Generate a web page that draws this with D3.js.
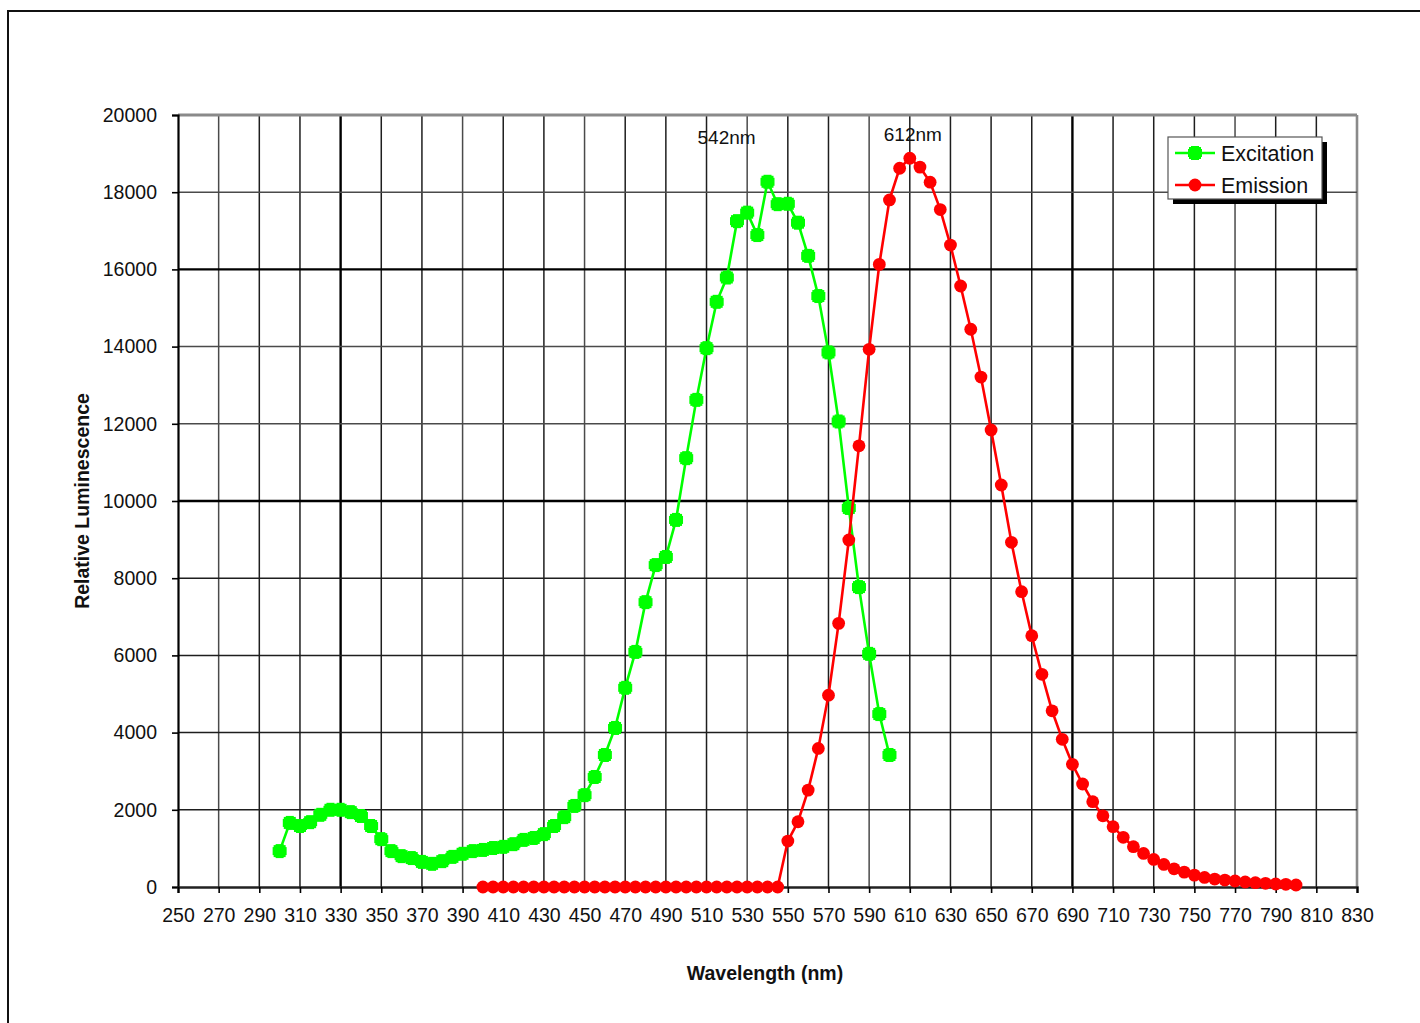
<!DOCTYPE html>
<html>
<head>
<meta charset="utf-8">
<script src="https://cdn.jsdelivr.net/npm/d3@7"></script>
<style>
  html, body { margin: 0; padding: 0; background: #fff; }
  svg { display: block; }
  text { font-family: "Liberation Sans", Arial, sans-serif; fill: #111; }
</style>
</head>
<body>
<svg id="chart" width="1420" height="1023"></svg>
<script>
// Wavelength sampling (nm)
const excitationWavelengths = d3.range(300, 601, 5);
const emissionWavelengths = d3.range(400, 801, 5);

// Excitation spectrum, relative luminescence at 300..600 nm
const excitationValues = [
  930, 1660, 1580, 1680, 1870, 2000, 2000, 1940, 1840, 1580,
  1240, 930, 800, 750, 650, 600, 670, 780, 860, 930,
  960, 1010, 1040, 1110, 1220, 1270, 1370, 1580, 1810, 2100,
  2380, 2850, 3420, 4120, 5160, 6090, 7380, 8340, 8550, 9510,
  11110, 12620, 13960, 15160, 15790, 17250, 17470, 16890, 18270, 17690,
  17700, 17210, 16350, 15310, 13850, 12060, 9820, 7770, 6040, 4480,
  3420
];

// Emission spectrum, relative luminescence at 400..800 nm
const emissionValues = [
  0, 0, 0, 0, 0, 0, 0, 0, 0, 0,
  0, 0, 0, 0, 0, 0, 0, 0, 0, 0,
  0, 0, 0, 0, 0, 0, 0, 0, 0, 0,
  1190, 1690, 2510, 3590, 4970, 6830, 8990, 11430, 13930, 16130,
  17800, 18620, 18880, 18650, 18260, 17550, 16630, 15570, 14450, 13210,
  11840, 10415, 8930, 7650, 6510, 5510, 4565, 3826, 3178, 2668,
  2210, 1845, 1562, 1287, 1044, 870, 715, 585, 472, 386,
  308, 248, 205, 179, 155, 130, 112, 95, 78, 70,
  52
];

const xTickLabels = d3.range(250, 831, 20);
const yTickLabels = d3.range(0, 20001, 2000);

const peakLabels = [
  { text: "542nm", wavelength: 542 },
  { text: "612nm", wavelength: 612 }
];

const seriesNames = ["Excitation", "Emission"];

const excitation = excitationWavelengths.map((w, i) => ({ x: w, y: excitationValues[i] }));
const emission = emissionWavelengths.map((w, i) => ({ x: w, y: emissionValues[i] }));

const svg = d3.select("#chart");
const FONT = "'Liberation Sans', Arial, sans-serif";

// outer chart frame
svg.append("rect")
  .attr("x", 8).attr("y", 11).attr("width", 1430).attr("height", 1040)
  .attr("fill", "#fff").attr("stroke", "#111").attr("stroke-width", 2);

const plot = { left: 178, right: 1357, top: 115, bottom: 887 };

const x = d3.scaleLinear().domain([250, 830]).range([plot.left, plot.right]);
const y = d3.scaleLinear().domain([0, 20000]).range([plot.bottom, plot.top]);

// vertical grid, one line per labelled wavelength
const heavyX = new Set([330, 690]);
const greyX = new Set([270, 390, 450, 530, 590, 770]);
svg.append("g").selectAll("line")
  .data(xTickLabels.filter(v => v > 250))
  .join("line")
  .attr("x1", d => x(d)).attr("x2", d => x(d))
  .attr("y1", plot.top).attr("y2", plot.bottom)
  .attr("stroke", d => d === 830 ? "#8a8a8a" : heavyX.has(d) ? "#000" : greyX.has(d) ? "#4a4a4a" : "#1e1e1e")
  .attr("stroke-width", d => d === 830 ? 2.6 : heavyX.has(d) ? 2.4 : 1.5);

// horizontal grid
const heavyY = new Set([10000, 16000]);
const greyY = new Set([12000, 14000, 18000]);
svg.append("g").selectAll("line")
  .data(yTickLabels.filter(v => v > 0))
  .join("line")
  .attr("x1", plot.left).attr("x2", plot.right)
  .attr("y1", d => y(d)).attr("y2", d => y(d))
  .attr("stroke", d => d === 20000 ? "#8a8a8a" : heavyY.has(d) ? "#000" : greyY.has(d) ? "#4a4a4a" : "#1e1e1e")
  .attr("stroke-width", d => d === 20000 ? 3 : heavyY.has(d) ? 2.4 : 1.5);

// axes
const yAxis = d3.axisLeft(y).tickValues(yTickLabels).tickSize(6).tickPadding(15).tickFormat(d3.format("d"));
const gy = svg.append("g").attr("transform", `translate(${plot.left},0)`).call(yAxis);
gy.select(".domain").attr("stroke", "#000").attr("stroke-width", 2.2);
gy.selectAll(".tick line").attr("stroke", "#000").attr("stroke-width", 1.6);
gy.selectAll(".tick text").attr("font-size", 19.5).attr("fill", "#111").attr("font-family", FONT);

const xAxis = d3.axisBottom(x).tickValues(xTickLabels).tickSize(6).tickPadding(15).tickFormat(d3.format("d"));
const gx = svg.append("g").attr("transform", `translate(0,${plot.bottom})`).call(xAxis);
gx.select(".domain").attr("stroke", "#222").attr("stroke-width", 2.4);
gx.selectAll(".tick line").attr("stroke", "#000").attr("stroke-width", 1.6);
gx.selectAll(".tick text").attr("font-size", 19.5).attr("fill", "#111").attr("font-family", FONT);

// axis titles
svg.append("text")
  .attr("x", 765).attr("y", 980)
  .attr("text-anchor", "middle").attr("font-size", 19.5).attr("font-weight", "bold")
  .text("Wavelength (nm)");
svg.append("text")
  .attr("transform", `translate(89,${y(10000)}) rotate(-90)`)
  .attr("text-anchor", "middle").attr("font-size", 19.5).attr("font-weight", "bold")
  .text("Relative Luminescence");

// series
const line = d3.line().x(d => x(d.x)).y(d => y(d.y));
const green = "#00ff00";
const red = "#ff0000";

function squareMarker(g, cx, cy, color) {
  g.append("rect").attr("x", cx - 6).attr("y", cy - 6).attr("width", 12).attr("height", 12).attr("fill", color);
  // small notches on the edges of the square marker
  g.append("rect").attr("x", cx - 7).attr("y", cy - 4).attr("width", 14).attr("height", 8).attr("fill", color);
  g.append("rect").attr("x", cx - 4).attr("y", cy - 7).attr("width", 8).attr("height", 14).attr("fill", color);
}

const gEx = svg.append("g");
gEx.append("path").datum(excitation).attr("d", line)
  .attr("fill", "none").attr("stroke", green).attr("stroke-width", 2.6);
excitation.forEach(d => squareMarker(gEx, x(d.x), y(d.y), green));

const gEm = svg.append("g");
gEm.append("path").datum(emission).attr("d", line)
  .attr("fill", "none").attr("stroke", red).attr("stroke-width", 2.6);
gEm.selectAll("circle").data(emission).join("circle")
  .attr("cx", d => x(d.x)).attr("cy", d => y(d.y)).attr("r", 6.4).attr("fill", red);

// peak annotations
const peakOffsets = { 542: [-45, 144], 612: [-1, 141] };
svg.append("g").selectAll("text").data(peakLabels).join("text")
  .attr("x", d => x(d.wavelength) + peakOffsets[d.wavelength][0])
  .attr("y", d => peakOffsets[d.wavelength][1])
  .attr("text-anchor", "middle").attr("font-size", 19).attr("fill", "#222")
  .text(d => d.text);

// legend
const lg = svg.append("g").attr("transform", "translate(1168,137)");
lg.append("rect").attr("x", 5).attr("y", 5).attr("width", 154).attr("height", 62).attr("fill", "#000");
lg.append("rect").attr("x", 0).attr("y", 0).attr("width", 154).attr("height", 62)
  .attr("fill", "#fff").attr("stroke", "#555").attr("stroke-width", 1.2);
const entries = [
  { name: seriesNames[0], color: green, kind: "square" },
  { name: seriesNames[1], color: red, kind: "circle" }
];
entries.forEach((e, i) => {
  const cy = 16 + i * 32;
  lg.append("line").attr("x1", 7).attr("x2", 47).attr("y1", cy).attr("y2", cy)
    .attr("stroke", e.color).attr("stroke-width", 2.6);
  if (e.kind === "square") squareMarker(lg, 27, cy, e.color);
  else lg.append("circle").attr("cx", 27).attr("cy", cy).attr("r", 6.4).attr("fill", e.color);
  lg.append("text").attr("x", 53).attr("y", cy + 8).attr("font-size", 21.5).attr("fill", "#111").text(e.name);
});
</script>
</body>
</html>
